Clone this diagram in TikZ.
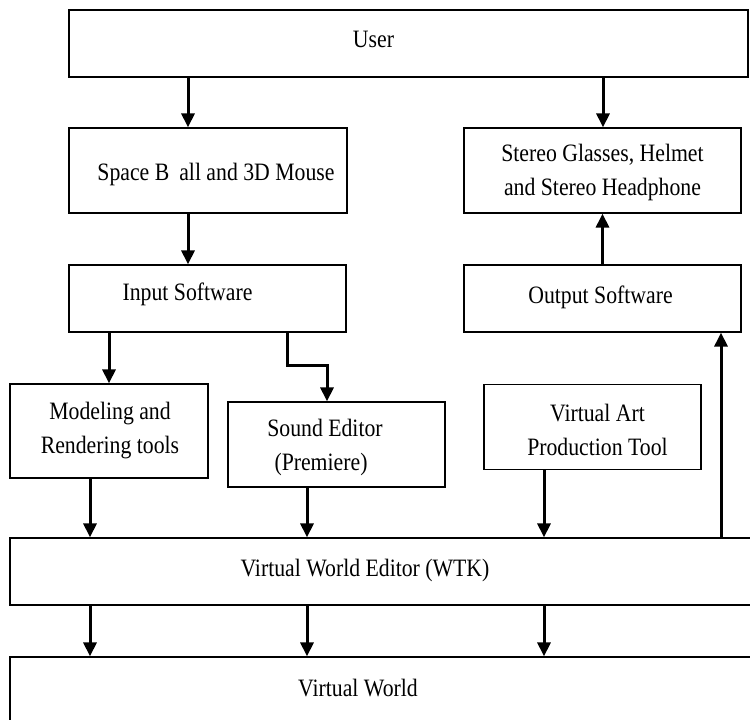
\documentclass[tikz,border=0pt]{standalone}
\usepackage{fontspec}
\setmainfont{Liberation Serif}[FakeStretch=0.87]
\usetikzlibrary{arrows.meta}
\tikzset{
  box/.style={draw, line width=1.2pt, inner sep=0pt, rectangle},
  arr/.style={line width=3pt, -{Triangle[width=13pt,length=14pt]}},
  every label/.style={font=\fontsize{25}{34}\selectfont, align=center, inner sep=0pt},
}
\begin{document}
\begin{tikzpicture}[x=1pt,y=1pt]
\useasboundingbox (0,0) rectangle (750,-720);
\node[box, minimum width=679pt, minimum height=67pt, label={[shift={(-35,4)}]center:User}] (user) at (408.5,-43.5) {};
\node[box, minimum width=278pt, minimum height=85pt, label={[shift={(8,-4)}]center:Space B\hspace{10pt}all and 3D Mouse}] (sb) at (208,-170.5) {};
\node[box, minimum width=277pt, minimum height=85pt, label={[shift={(0,-2)}]center:Stereo Glasses, Helmet\\and Stereo Headphone}] (st) at (602.5,-170.5) {};
\node[box, minimum width=277pt, minimum height=67pt, label={[shift={(-20,4)}]center:Input Software}] (inp) at (207.5,-298.5) {};
\node[box, minimum width=277pt, minimum height=67pt, label={[shift={(-2,1)}]center:Output Software}] (out) at (602.5,-298.5) {};
\node[box, minimum width=198pt, minimum height=94pt, label={[shift={(1,0)}]center:Modeling and\\Rendering tools}] (mod) at (109,-431) {};
\node[box, minimum width=217pt, minimum height=85pt, label={[shift={(-15.5,-3), align=left}]center:\hspace*{8pt}Sound Editor\\(Premiere)}] (snd) at (336.5,-444.5) {};
\node[box, minimum width=217pt, minimum height=85pt, label={[shift={(5,-3)}]center:Virtual Art\\Production Tool}] (art) at (592.5,-427) {};
\node[box, minimum width=742pt, minimum height=67pt, label={[shift={(-16,1)}]center:Virtual World Editor (WTK)}] (vwe) at (381,-571.5) {};
\node[box, minimum width=742pt, minimum height=65pt, label={[shift={(-23,1)}]center:Virtual World}] (vw) at (381,-689.5) {};
% arrows
\draw[arr] ([xshift=-220.5pt]user.south) -- ([xshift=-220.5pt]user.south |- sb.north);
\draw[arr] ([xshift=194.5pt]user.south) -- ([xshift=194.5pt]user.south |- st.north);
\draw[arr] ([xshift=-20pt]sb.south) -- ([xshift=-20pt]sb.south |- inp.north);
\draw[arr] (out.north) -- (st.south);
\draw[arr] ([xshift=-98.5pt]inp.south) -- (mod.north);
\coordinate (bend) at ([xshift=79.5pt,yshift=-33pt]inp.south);
\draw[arr] ([xshift=79.5pt]inp.south) -- (bend) -| ([xshift=-9.5pt]snd.north);
\draw[arr] ([xshift=-19pt]mod.south) -- ([xshift=-19pt]mod.south |- vwe.north);
\draw[arr] ([xshift=-29.5pt]snd.south) -- ([xshift=-29.5pt]snd.south |- vwe.north);
\draw[arr] ([xshift=-48.5pt]art.south) -- ([xshift=-48.5pt]art.south |- vwe.north);
\draw[arr] ([xshift=-291pt]vwe.south) -- ([xshift=-291pt]vw.north);
\draw[arr] ([xshift=-74pt]vwe.south) -- ([xshift=-74pt]vw.north);
\draw[arr] ([xshift=163pt]vwe.south) -- ([xshift=163pt]vw.north);
\draw[arr] ([xshift=340pt]vwe.north) -- ([xshift=340pt]vwe.north |- out.south);
\end{tikzpicture}
\end{document}
